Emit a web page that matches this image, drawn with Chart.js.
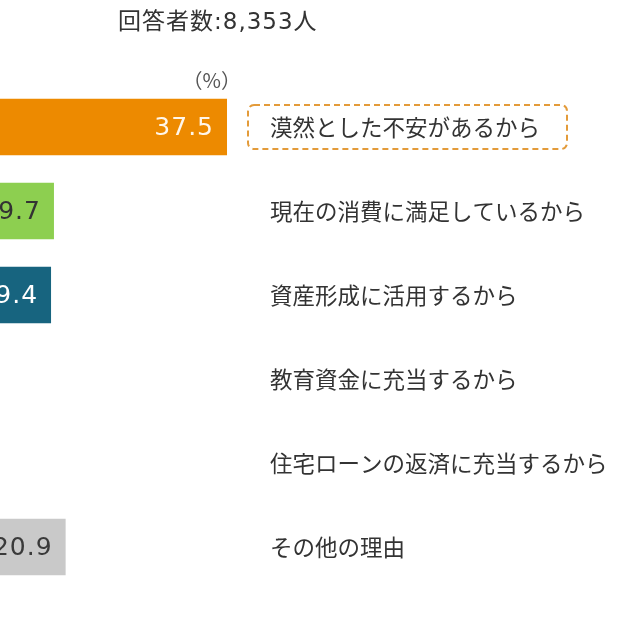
<!DOCTYPE html>
<html lang="ja">
<head>
<meta charset="utf-8">
<title>貯蓄の理由</title>
<script src="https://cdn.jsdelivr.net/npm/chart.js@4.4.1/dist/chart.umd.min.js"></script>
<style>
    html, body { margin: 0; padding: 0; background: #ffffff; }
    #wrap { width: 640px; height: 640px; }
</style>
</head>
<body>
<div id="wrap"><canvas id="reasonChart" width="640" height="640"></canvas></div>
<script>
// Data (rows 4 and 5 fall outside the visible crop, so estimated)
const reasons = [
    '漠然とした不安があるから',
    '現在の消費に満足しているから',
    '資産形成に活用するから',
    '教育資金に充当するから',
    '住宅ローンの返済に充当するから',
    'その他の理由'
];
const shares = [37.5, 19.7, 19.4, 10.6, 6.3, 20.9];
const barColors = ['#ED8A00', '#8DCF50', '#17647F', '#3F9FBF', '#F2B25C', '#C9C9C9'];
const valueColors = ['#fff6ea', '#333333', '#ffffff', '#ffffff', '#333333', '#3a3a3a'];
const respondentsText = '回答者数:8,353人';
const unitText = '（%）';

const jpFont = "'Noto Sans CJK JP', sans-serif";
const numFont = "'DejaVu Sans', 'Noto Sans CJK JP', sans-serif";

// Value labels drawn inside the bar ends
const valueLabels = {
    id: 'valueLabels',
    afterDatasetsDraw(chart) {
        const ctx = chart.ctx;
        const meta = chart.getDatasetMeta(0);
        ctx.save();
        ctx.font = '25px ' + numFont;
        ctx.letterSpacing = '1px';
        ctx.textAlign = 'right';
        ctx.textBaseline = 'middle';
        meta.data.forEach((bar, i) => {
            ctx.fillStyle = valueColors[i];
            ctx.fillText(shares[i].toFixed(1), bar.x - 13, bar.y + 1);
        });
        ctx.restore();
    }
};

// Category names to the right of the plot, header texts, dashed frame
const decorations = {
    id: 'decorations',
    afterDraw(chart) {
        const ctx = chart.ctx;
        const area = chart.chartArea;
        const yScale = chart.scales.y;
        const labelX = area.right + 25;
        ctx.save();

        ctx.fillStyle = '#333333';
        ctx.font = '22.5px ' + jpFont;
        ctx.textAlign = 'left';
        ctx.textBaseline = 'middle';
        reasons.forEach((r, i) => {
            ctx.fillText(r, labelX, yScale.getPixelForTick(i));
        });

        ctx.font = '23px ' + numFont;
        ctx.letterSpacing = '1px';
        ctx.fillText(respondentsText, 118, 23);
        ctx.letterSpacing = '0px';

        ctx.fillStyle = '#555555';
        ctx.font = '20px ' + jpFont;
        ctx.textAlign = 'right';
        ctx.fillText(unitText, area.right - 4, 80);

        // dashed rounded box round the first reason
        const yc = yScale.getPixelForTick(0);
        const x0 = area.right + 3;
        const w = 319;
        const h = 44;
        ctx.strokeStyle = '#E39B3A';
        ctx.lineWidth = 2;
        ctx.setLineDash([6, 4]);
        ctx.beginPath();
        ctx.roundRect(x0, yc - h / 2, w, h, 6);
        ctx.stroke();
        ctx.restore();
    }
};

new Chart(document.getElementById('reasonChart'), {
    type: 'bar',
    data: {
        labels: reasons,
        datasets: [{
            data: shares,
            backgroundColor: barColors,
            borderWidth: 0,
            categoryPercentage: 1,
            barPercentage: 0.67
        }]
    },
    plugins: [valueLabels, decorations],
    options: {
        indexAxis: 'y',
        responsive: false,
        animation: false,
        layout: { padding: { left: 0, right: 395, top: 85, bottom: 51 } },
        plugins: {
            legend: { display: false },
            tooltip: { enabled: false }
        },
        scales: {
            x: {
                display: false,
                min: 14.15,
                max: 39.35
            },
            y: {
                display: false
            }
        }
    }
});
</script>
</body>
</html>
